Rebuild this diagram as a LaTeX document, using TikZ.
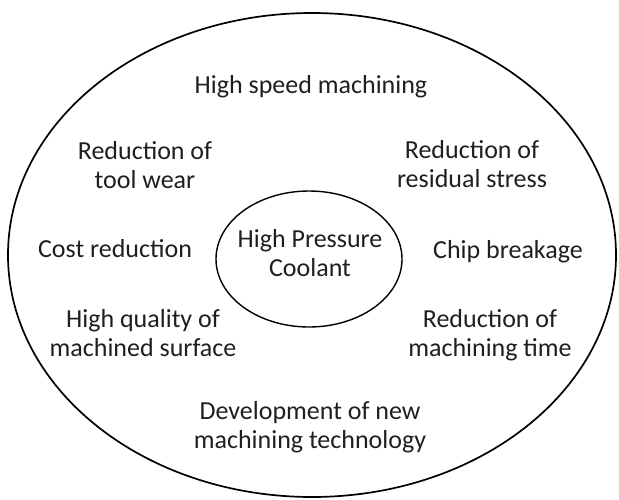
\documentclass[tikz,border=0pt]{standalone}
\usetikzlibrary{shapes.geometric}
\usepackage{fontspec}
\setmainfont{Carlito}
\newcommand{\twolines}[2]{\begin{tabular}[t]{@{}c@{}}#1\\#2\end{tabular}}
\begin{document}
\begin{tikzpicture}[x=1pt,y=-1pt,
  lbl/.style={anchor=base,font=\fontsize{26}{29}\selectfont,text=black!88,inner sep=0pt},
  ring/.style={draw=black,ellipse,inner sep=0pt,line width=1.7pt}]
\useasboundingbox (0,0) rectangle (619,499);
\node[ring,minimum width=608,minimum height=484] (o) at (312,255) {};
\node[ring,minimum width=186,minimum height=136,line width=1.4pt] (c) at (309,259) {};
\node[lbl] (hpc) at (310,247) {\twolines{High Pressure}{Coolant}};
\node[lbl] (hsm) at (311,93) {High speed machining};
\node[lbl] (rtw) at (145,159) {\twolines{Reduction of}{tool wear}};
\node[lbl] (rrs) at (472,158) {\twolines{Reduction of}{residual stress}};
\node[lbl] (cr) at (115,257) {Cost reduction};
\node[lbl] (cb) at (508,258) {Chip breakage};
\node[lbl] (hq) at (143,327) {\twolines{High quality of}{machined surface}};
\node[lbl] (rmt) at (490,327) {\twolines{Reduction of}{machining time}};
\node[lbl] (dev) at (310,419) {\twolines{Development of new}{machining technology}};
\end{tikzpicture}
\end{document}
